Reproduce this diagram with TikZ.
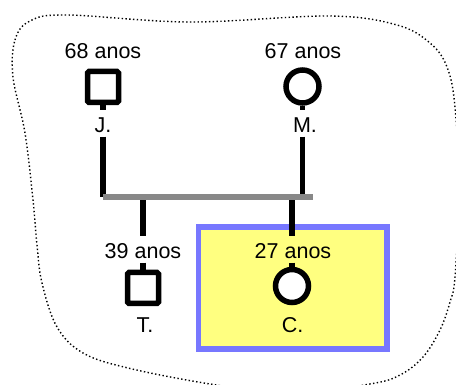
\documentclass[tikz,border=0pt]{standalone}
\usepackage{fontspec}
\setmainfont{Liberation Sans}
\definecolor{boxblue}{HTML}{7777FF}
\definecolor{boxyellow}{HTML}{FFFF80}
\definecolor{bargray}{HTML}{888888}
\pgfdeclarelayer{backdrop}
\pgfdeclarelayer{lines}
\pgfsetlayers{backdrop,lines,main}
\begin{document}
\begin{tikzpicture}[x=1pt,y=-1pt,
  kin/.style={line width=5.5pt,black},
  male/.style={draw,line width=5.5pt,minimum size=31pt,inner sep=0pt,rounded corners=1.5pt,fill=white},
  female/.style={draw,line width=5.5pt,circle,minimum size=33pt,inner sep=0pt,fill=white},
  age/.style={font=\fontsize{21.5}{24}\selectfont,anchor=base,inner sep=0pt},
  lbl/.style={age,text height=22.5pt,text depth=3.5pt},
  sibbar/.style={line width=5.7pt,bargray},
  border/.style={line width=1.4pt,dash pattern=on 1.4pt off 2.4pt},
  focus/.style={draw=boxblue,fill=boxyellow,line width=5.5pt,inner sep=0pt}]
\useasboundingbox (0,0) rectangle (456,385);

\begin{pgfonlayer}{backdrop}
  \fill[white] (0,0) rectangle (456,385);
  % dotted outline of the household
  \begin{scope}
    \clip (0,0) rectangle (456,385);
    \draw[border] plot[smooth cycle,tension=0.6] coordinates {
      (13,77) (15,40) (30,21) (67,15) (190,22) (330,16) (397,25) (430,43)
      (447,67) (455,107) (459,190) (455,277) (450,302) (440,330) (423,357)
      (400,375) (370,384) (290,394) (210,384) (128,368) (83,353) (57,327)
      (42,283) (37,245) (33,200) (25,133)};
  \end{scope}
  % highlighted index person
  \node[focus,minimum width=188.5pt,minimum height=122pt] (box) at (292.75,288) {};
\end{pgfonlayer}

% parents
\node[male] (J) at (103,87) {};
\node[female] (M) at (302.5,86.5) {};
\node[age] (Ja) at (103,59) {68 anos};
\node[age] (Ma) at (303,59) {67 anos};
\node[lbl] (Jl) at (103,133) {J.};
\node[lbl] (Ml) at (305,133) {M.};
\coordinate (bl) at (103,197);
\coordinate (br) at (313,197);

% children
\node[male] (T) at (143,288) {};
\node[female] (C) at (292,286) {};
\node[lbl] (Tl) at (143,259) {39 anos};
\node[lbl] (Cl) at (293,259) {27 anos};
\node[age] (Tn) at (145,333) {T.};
\node[age] (Cn) at (292.5,333) {C.};

% lines of descent, kept beneath the symbols
\begin{pgfonlayer}{lines}
  \draw[kin] (J.south) -- (Jl.north);
  \draw[kin] (Jl.south) -- (bl);
  \draw[kin] (M.south) -- (M |- Ml.north);
  \draw[kin] (M |- Ml.south) -- (M |- bl);
  \draw[kin] (T |- bl) -- (Tl.north);
  \draw[kin] (Tl.south) -- (T.north);
  \draw[kin] (C |- bl) -- (C |- Cl.north);
  \draw[kin] (C |- Cl.south) -- (C.north);
  \draw[sibbar] (bl) -- (br);
\end{pgfonlayer}
\end{tikzpicture}
\end{document}
